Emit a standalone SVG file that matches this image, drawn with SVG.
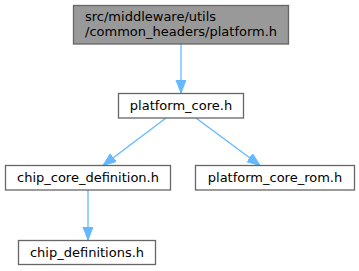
<svg xmlns="http://www.w3.org/2000/svg" width="359" height="271" viewBox="0 0 359 271">
<style>
.node rect{fill:#ffffff;stroke:#666666;stroke-width:1.3}
.node.root rect{fill:#999999}
text{font-family:"DejaVu Sans",sans-serif;font-size:13px;fill:#000000}
.edge line{stroke:#63b8ff;stroke-width:1.3;fill:none}
</style>
<defs>
<marker id="ah" markerUnits="userSpaceOnUse" markerWidth="14" markerHeight="11" refX="13" refY="5" orient="auto">
<path d="M0,0 L13,5 L0,10 z" fill="#63b8ff" stroke="#63b8ff" stroke-width="1"/>
</marker>
</defs>
<rect width="359" height="271" fill="#ffffff"/>
<g id="connectors" class="edge">
<line x1="181" y1="44" x2="181" y2="93" marker-end="url(#ah)"/>
<line x1="166" y1="118" x2="103" y2="165.5" marker-end="url(#ah)"/>
<line x1="196" y1="118" x2="260" y2="165.5" marker-end="url(#ah)"/>
<line x1="88" y1="190" x2="88" y2="240" marker-end="url(#ah)"/>
</g>
<g id="node_platform_h" class="node root">
<rect x="73.5" y="5.5" width="215" height="38.5"/>
<text x="85" y="20.7">src/middleware/utils</text>
<text x="85" y="35.7">/common_headers/platform.h</text>
</g>
<g id="node_platform_core" class="node">
<rect x="118.5" y="93.5" width="125" height="24.5"/>
<text x="181" y="110" text-anchor="middle">platform_core.h</text>
</g>
<g id="node_chip_core_definition" class="node">
<rect x="5.5" y="165.5" width="165" height="24.5"/>
<text x="88" y="182" text-anchor="middle">chip_core_definition.h</text>
</g>
<g id="node_platform_core_rom" class="node">
<rect x="195.5" y="165.5" width="159" height="24.5"/>
<text x="275" y="182" text-anchor="middle">platform_core_rom.h</text>
</g>
<g id="node_chip_definitions" class="node">
<rect x="18.5" y="240.5" width="137" height="24"/>
<text x="87" y="257" text-anchor="middle">chip_definitions.h</text>
</g>
</svg>
